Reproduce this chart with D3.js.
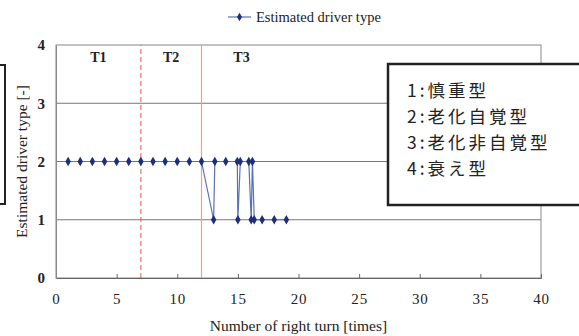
<!DOCTYPE html>
<html><head><meta charset="utf-8">
<script src="https://cdn.jsdelivr.net/npm/d3@7"></script>
<style>body{margin:0;background:#fff}svg{display:block}</style>
</head><body>
<script>
const turnX = [1,2,3,4,5,6,7,8,9,10,11,12,13,13.1,14,14.95,15,15.2,15.9,16.1,16.2,16.35,17,18,19];
const driverType = [2,2,2,2,2,2,2,2,2,2,2,2,1,2,2,2,1,2,2,1,2,1,1,1,1];
const xTicks = [0,5,10,15,20,25,30,35,40];
const yTicks = [0,1,2,3,4];
const phaseLines = [7,12];
const phaseLabels = [{t:"T1",x:3.5},{t:"T2",x:9.5},{t:"T3",x:15.3}];
const typeNames = ["1:慎重型","2:老化自覚型","3:老化非自覚型","4:衰え型"];
const seriesName = "Estimated driver type";

const W=579,H=336;
const svg=d3.select("body").append("svg").attr("width",W).attr("height",H);
const x=d3.scaleLinear().domain([0,40]).range([56,541]);
const y=d3.scaleLinear().domain([0,4]).range([278,45]);
const serif="'Liberation Serif','Times New Roman',serif";

// gridlines
svg.append("g").selectAll("line").data(yTicks.filter(d=>d>0&&d<4)).join("line")
 .attr("x1",x(0)).attr("x2",x(40)).attr("y1",d=>y(d)).attr("y2",d=>y(d))
 .attr("stroke","#777").attr("stroke-width",1);
// border
svg.append("rect").attr("x",x(0)).attr("y",y(4)).attr("width",x(40)-x(0)).attr("height",y(0)-y(4))
 .attr("fill","none").attr("stroke","#888").attr("stroke-width",1);

// x axis
const xa=svg.append("g").attr("transform",`translate(0,${y(0)})`)
 .call(d3.axisBottom(x).tickValues(xTicks).tickSize(-4).tickPadding(15).tickFormat(d3.format("d")));
xa.select(".domain").attr("stroke","#666");
xa.selectAll(".tick line").attr("stroke","#666");
xa.selectAll("text").attr("font-family",serif).attr("font-size",15).attr("letter-spacing",0.8).attr("fill","#222");
// y axis
const ya=svg.append("g").attr("transform",`translate(${x(0)},0)`)
 .call(d3.axisLeft(y).tickValues(yTicks).tickSize(0).tickPadding(11).tickFormat(d3.format("d")));
ya.select(".domain").attr("stroke","#888");
ya.selectAll("text").attr("font-family",serif).attr("font-size",15).attr("font-weight","bold").attr("fill","#222");

// phase lines
svg.append("line").attr("x1",x(phaseLines[0])).attr("x2",x(phaseLines[0])).attr("y1",y(0)).attr("y2",y(4))
 .attr("stroke","#e0604a").attr("stroke-width",1).attr("stroke-dasharray","5,3");
svg.append("line").attr("x1",x(phaseLines[1])).attr("x2",x(phaseLines[1])).attr("y1",y(0)).attr("y2",y(4))
 .attr("stroke","#f2a078").attr("stroke-width",1.2);
svg.append("g").selectAll("text").data(phaseLabels).join("text")
 .attr("x",d=>x(d.x)).attr("y",62).attr("text-anchor","middle")
 .attr("font-family",serif).attr("font-size",14).attr("font-weight","bold").attr("fill","#222").text(d=>d.t);

// series
const pts=turnX.map((v,i)=>[v,driverType[i]]);
svg.append("path").datum(pts).attr("fill","none").attr("stroke","#5a70b8").attr("stroke-width",1.2)
 .attr("d",d3.line().x(d=>x(d[0])).y(d=>y(d[1])));
svg.append("g").selectAll("path").data(pts).join("path")
 .attr("transform",d=>`translate(${x(d[0])},${y(d[1])})`)
 .attr("d",d3.symbol(d3.symbolDiamond,26)).attr("fill","#1c2e7c");

// legend
svg.append("line").attr("x1",228).attr("x2",251).attr("y1",17).attr("y2",17).attr("stroke","#5a70b8").attr("stroke-width",1.2);
svg.append("path").attr("transform","translate(239.5,17)").attr("d",d3.symbol(d3.symbolDiamond,22)).attr("fill","#1c2e7c");
svg.append("text").attr("x",256).attr("y",21.5).attr("font-family",serif).attr("font-size",14.5).attr("fill","#222").text(seriesName);

// axis titles
svg.append("text").attr("x",(x(0)+x(40))/2).attr("y",331).attr("text-anchor","middle")
 .attr("font-family",serif).attr("font-size",15.5).attr("fill","#222").text("Number of right turn [times]");
svg.append("text").attr("transform",`translate(27,${(y(0)+y(4))/2}) rotate(-90)`).attr("text-anchor","middle")
 .attr("font-family",serif).attr("font-size",15.5).attr("fill","#222").text("Estimated driver type [-]");

// left partial box
svg.append("rect").attr("x",-20).attr("y",65).attr("width",25).attr("height",139)
 .attr("fill","none").attr("stroke","#222").attr("stroke-width",2);

// annotation box
svg.append("rect").attr("x",388).attr("y",64).attr("width",220).attr("height",141)
 .attr("fill","#fff").attr("stroke","#222").attr("stroke-width",2.5);
svg.append("g").selectAll("text").data(typeNames).join("text")
 .attr("x",407).attr("y",(d,i)=>97+i*26)
 .attr("font-family","'Noto Sans CJK JP',sans-serif").attr("font-size",17.5).attr("letter-spacing",3)
 .attr("fill","#222").text(d=>d);
</script>
</body></html>
